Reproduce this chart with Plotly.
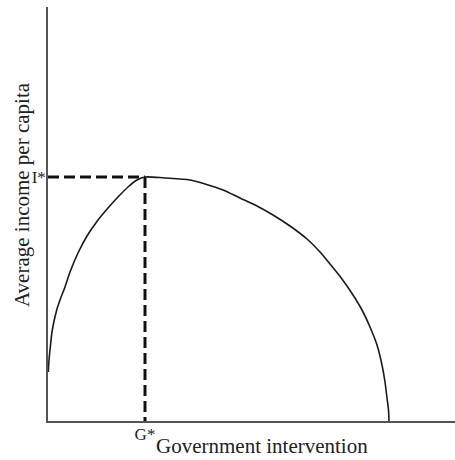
import plotly.graph_objects as go

# Curve (arbitrary units: intervention vs income)
intervention = [0.3, 1, 2, 4.3, 8.7, 12, 17, 22, 30, 39, 50, 60, 70, 80, 89, 97,
                117, 142, 157, 175, 192, 209, 225, 242, 259, 272, 282, 294, 305,
                314, 322, 329, 334, 337, 339, 340.5, 341]
income = [49, 61, 71, 91, 111, 121, 134, 149, 168, 185, 201, 213, 224, 234, 241, 244,
          243, 241, 237, 231, 223, 215, 206, 195, 182, 169, 157, 142, 126,
          111, 94, 76, 56, 39, 23, 11, 0]

g_star = 97
i_star = 244
x_tick_labels = ["G*"]
y_tick_labels = ["I*"]
x_title = "Government intervention"
y_title = "Average income per capita"

FONT = "Liberation Serif, Times New Roman, serif"
W, H = 455, 460
L, R, T, B = 48, 0, 7, 39
PW, PH = W - L - R, H - T - B

fig = go.Figure()
fig.add_trace(go.Scatter(x=[0, g_star], y=[i_star, i_star], mode="lines",
                         line=dict(color="#111111", width=3, dash="11px,5px"),
                         hoverinfo="skip"))
fig.add_trace(go.Scatter(x=[g_star, g_star], y=[i_star, 0], mode="lines",
                         line=dict(color="#111111", width=3, dash="11px,5px"),
                         hoverinfo="skip"))
fig.add_trace(go.Scatter(x=intervention, y=income, mode="lines",
                         line=dict(color="#1a1a1a", width=1.6, shape="spline", smoothing=0.8)))

fig.update_layout(
    width=W, height=H,
    margin=dict(l=L, r=R, t=T, b=B),
    paper_bgcolor="white", plot_bgcolor="white",
    showlegend=False,
    font=dict(family=FONT, color="#222222", size=17),
    xaxis=dict(range=[0, PW], showgrid=False, zeroline=False,
               showline=True, linecolor="#555555", linewidth=1.5,
               tickvals=[g_star], ticktext=x_tick_labels, ticks="",
               ticklabelstandoff=-3,
               tickfont=dict(size=17, family=FONT)),
    yaxis=dict(range=[0, PH], showgrid=False, zeroline=False,
               showline=True, linecolor="#555555", linewidth=1.5,
               tickvals=[i_star], ticktext=y_tick_labels, ticks="",
               ticklabelstandoff=-3,
               tickfont=dict(size=17, family=FONT)),
    annotations=[
        dict(text=x_title, xref="paper", yref="paper", x=(262 - L) / PW, y=-(459 - (H - B)) / PH,
             xanchor="center", yanchor="bottom", showarrow=False, borderpad=0,
             font=dict(size=21, family=FONT, color="#222222")),
        dict(text=y_title, xref="paper", yref="paper", x=-(L - 22) / PW, y=((H - B) - 195) / PH,
             xanchor="center", yanchor="middle", textangle=-90, showarrow=False,
             font=dict(size=21, family=FONT, color="#222222")),
    ],
)

fig.write_html("out.html", config={"responsive": False, "displayModeBar": False},
               post_script="document.body.style.margin='0';document.body.style.overflow='hidden';")
